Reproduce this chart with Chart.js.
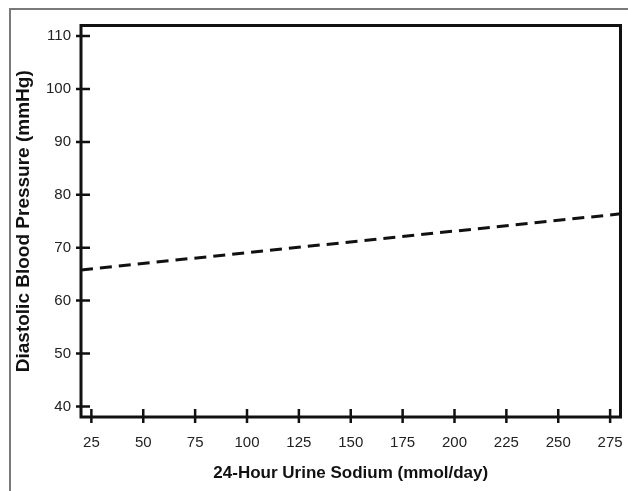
<!DOCTYPE html>
<html lang="en">
<head>
  <meta charset="UTF-8">
  <title>Diastolic Blood Pressure vs 24-Hour Urine Sodium</title>
  <script src="https://cdn.jsdelivr.net/npm/chart.js"></script>
  <style>
    body { margin: 0; background: #fff; }
    .wrap { position: relative; width: 628px; height: 491px; overflow: hidden; }
    .frame { position: absolute; left: 9px; top: 8px; right: -5px; bottom: -5px; border-top: 2px solid #7a7a7a; border-left: 2px solid #7a7a7a; pointer-events: none; }
    canvas { position: absolute; left: 0; top: 0; }
  </style>
</head>
<body>
  <div class="wrap">
    <canvas id="grafico" width="628" height="491"></canvas>
    <div class="frame"></div>
  </div>

  <script>
    // data
    const sodium = [20, 280];          // mmol/day, ends of the fitted line
    const diastolic = [65.8, 76.4];    // mmHg
    const xTicks = [25, 50, 75, 100, 125, 150, 175, 200, 225, 250, 275];
    const yTicks = [40, 50, 60, 70, 80, 90, 100, 110];

    const points = sodium.map((x, i) => ({ x: x, y: diastolic[i] }));

    // box round the plot plus ticks that cross the axis lines
    const boxAndTicks = {
      id: 'boxAndTicks',
      afterDatasetsDraw(chart) {
        const { ctx, chartArea: a, scales } = chart;
        ctx.save();
        ctx.strokeStyle = '#111';
        ctx.lineWidth = 3;
        ctx.strokeRect(a.left, a.top, a.right - a.left, a.bottom - a.top);
        ctx.lineWidth = 2.5;
        ctx.beginPath();
        yTicks.forEach(v => {
          const y = scales.y.getPixelForValue(v);
          ctx.moveTo(a.left - 5, y);
          ctx.lineTo(a.left + 9, y);
        });
        xTicks.forEach(v => {
          const x = scales.x.getPixelForValue(v);
          ctx.moveTo(x, a.bottom - 8);
          ctx.lineTo(x, a.bottom + 6);
        });
        ctx.stroke();
        ctx.restore();
      }
    };

    new Chart(document.getElementById('grafico'), {
      type: 'line',
      data: {
        datasets: [{
          data: points,
          borderColor: '#111',
          borderWidth: 3,
          borderDash: [12, 7],
          pointRadius: 0,
          fill: false,
          tension: 0
        }]
      },
      options: {
        responsive: false,
        animation: false,
        layout: { padding: { left: 0, top: 25.5, right: 7.5, bottom: 0 } },
        plugins: { legend: { display: false }, tooltip: { enabled: false } },
        scales: {
          x: {
            type: 'linear',
            min: 20, max: 280,
            afterBuildTicks: s => { s.ticks = xTicks.map(v => ({ value: v })); },
            afterFit: s => { s.height = 74; s.paddingLeft = 0; s.paddingRight = 0; },
            grid: { display: false, drawTicks: false },
            border: { display: false },
            ticks: { padding: 17, color: '#222', font: { family: 'Liberation Sans, Arial', size: 15 }, maxRotation: 0 },
            title: {
              display: true,
              text: '24-Hour Urine Sodium (mmol/day)',
              color: '#111',
              font: { family: 'Liberation Sans, Arial', size: 17, weight: 'bold' },
              padding: { top: 0, bottom: 7 }
            }
          },
          y: {
            min: 38, max: 112,
            afterBuildTicks: s => { s.ticks = yTicks.map(v => ({ value: v })); },
            afterFit: s => { s.width = 81; s.paddingTop = 0; s.paddingBottom = 0; },
            grid: { display: false, drawTicks: false },
            border: { display: false },
            ticks: { padding: 10, color: '#222', font: { family: 'Liberation Sans, Arial', size: 15 } },
            title: {
              display: true,
              text: 'Diastolic Blood Pressure (mmHg)',
              color: '#111',
              font: { family: 'Liberation Sans, Arial', size: 19, weight: 'bold' },
              padding: { top: 12, bottom: 0 }
            }
          }
        }
      },
      plugins: [boxAndTicks]
    });
  </script>
</body>
</html>
